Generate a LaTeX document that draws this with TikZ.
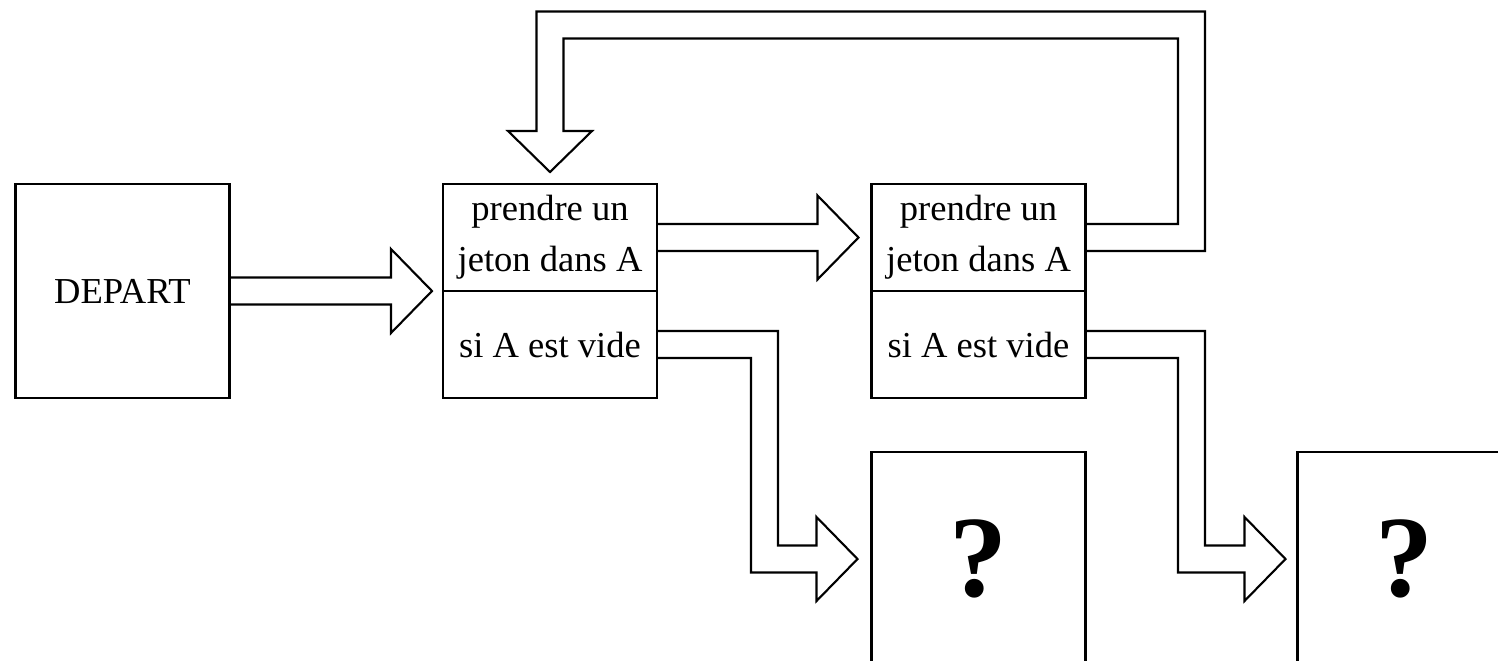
\documentclass[tikz,border=0pt]{standalone}
\usepackage{fontspec}
\setmainfont{Liberation Serif}
\usetikzlibrary{calc}
\tikzset{
  boite/.style={draw,rectangle,line width=0.6pt,inner sep=0pt,outer sep=0pt,
    minimum width=2.14cm,align=center,font=\fontsize{10.4}{14.5}\selectfont},
  question/.style={boite,minimum height=2.14cm,
    font=\bfseries\fontsize{33}{36}\selectfont},
  contour/.style={draw,line width=0.6pt,line join=miter},
}
\newcommand{\larg}{0.135}
\newcommand{\tete}{0.42}
\newcommand{\lng}{0.41}

\begin{document}
\begin{tikzpicture}
  \useasboundingbox (0,0) rectangle (14.98,-6.60);
  \clip (0,0) rectangle (14.98,-6.60);
  \node[boite,minimum height=2.14cm] (depart) at (1.225,-2.91) {DEPART};
  \node[boite,minimum height=1.07cm] (prise1) at (5.50,-2.375) {prendre un\\jeton dans A};
  \node[boite,minimum height=1.07cm] (vide1) at (5.50,-3.445) {si A est vide};
  \node[boite,minimum height=1.07cm] (prise2) at (9.785,-2.375) {prendre un\\jeton dans A};
  \node[boite,minimum height=1.07cm] (vide2) at (9.785,-3.445) {si A est vide};
  \node[question] (q1) at (9.785,-5.59) {?};
  \node[question] (q2) at (14.045,-5.59) {?};
  \coordinate (retour) at (11.915,-0.25);
  \coordinate (coude1) at (7.645,-5.59);
  \coordinate (coude2) at (11.915,-5.59);
  \draw[contour] ($(depart.east)+(0,\larg)$) -- ($(prise1.south west)+(-0.52,\larg)$)
    -- ++(0,\tete-\larg) -- ($(prise1.south west)+(-0.11,0)$) -- ++(-\lng,-\tete)
    -- ++(0,\tete-\larg) -- ($(depart.east)+(0,-\larg)$);
  \draw[contour] ($(prise1.east)+(0,\larg)$) -- ($(prise2.west)+(-0.54,\larg)$)
    -- ++(0,\tete-\larg) -- ($(prise2.west)+(-0.13,0)$) -- ++(-\lng,-\tete)
    -- ++(0,\tete-\larg) -- ($(prise1.east)+(0,-\larg)$);
  \draw[contour] ($(prise2.east)+(0,-\larg)$) -| ($(retour)+(\larg,\larg)$)
    -| ($(prise1.north)+(-\larg,0.53)$) -- ++(\larg-\tete,0)
    -- ($(prise1.north)+(0,0.12)$) -- ++(\tete,\lng) -- ++(\larg-\tete,0)
    |- ($(retour)+(-\larg,-\larg)$) |- ($(prise2.east)+(0,\larg)$);
  \draw[contour] ($(vide1.east)+(0,\larg)$) -| ($(coude1)+(\larg,\larg)$)
    -- ($(q1.west)+(-0.55,\larg)$) -- ++(0,\tete-\larg) -- ($(q1.west)+(-0.14,0)$)
    -- ++(-\lng,-\tete) -- ++(0,\tete-\larg) -| ($(coude1)+(-\larg,-\larg)$)
    |- ($(vide1.east)+(0,-\larg)$);
  \draw[contour] ($(vide2.east)+(0,\larg)$) -| ($(coude2)+(\larg,\larg)$)
    -- ($(q2.west)+(-0.53,\larg)$) -- ++(0,\tete-\larg) -- ($(q2.west)+(-0.12,0)$)
    -- ++(-\lng,-\tete) -- ++(0,\tete-\larg) -| ($(coude2)+(-\larg,-\larg)$)
    |- ($(vide2.east)+(0,-\larg)$);
\end{tikzpicture}
\end{document}
